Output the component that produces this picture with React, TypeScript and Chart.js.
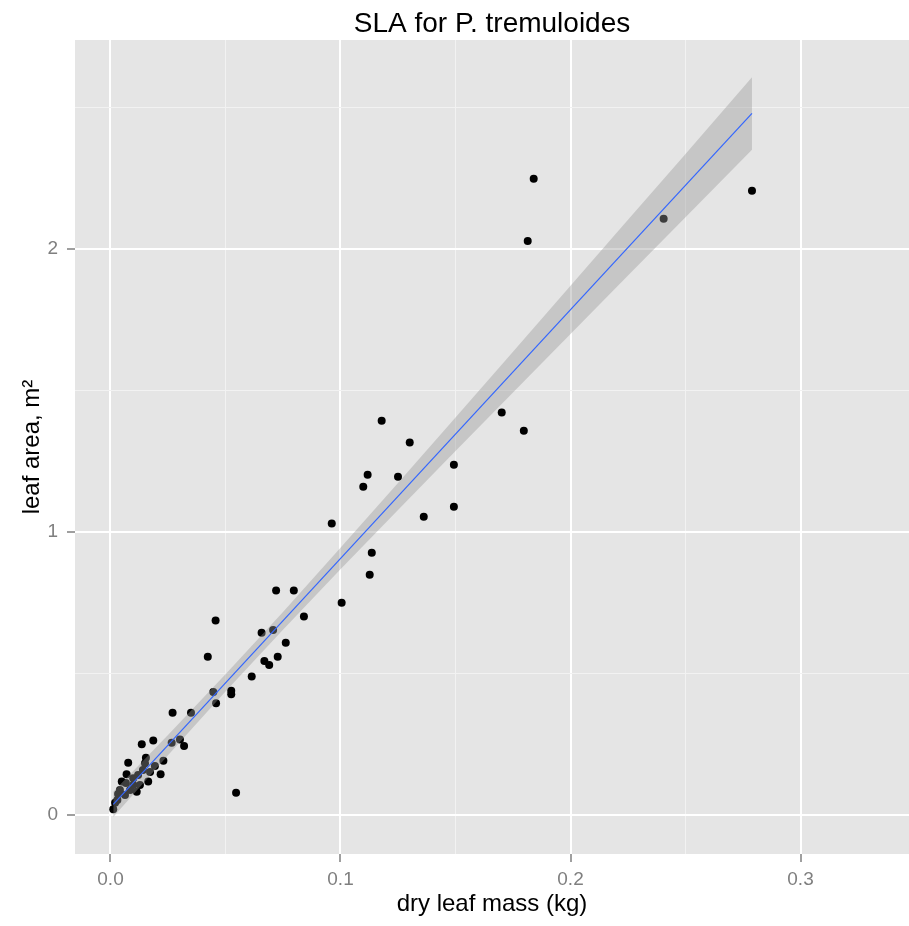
import React, { useEffect, useRef } from "react";
import { Chart, registerables } from "chart.js";

Chart.register(...registerables);

// Observed points: dry leaf mass (kg) and leaf area (m²)
const massKg = [
  0.0012, 0.002, 0.003, 0.0033, 0.0041, 0.0049, 0.0063, 0.0067, 0.007, 0.0077,
  0.0085, 0.0099, 0.0099, 0.0114, 0.012, 0.0128, 0.0136, 0.0141, 0.015, 0.0154,
  0.0164, 0.0172, 0.0186, 0.0193, 0.0218, 0.023, 0.0266, 0.0302, 0.032,
  0.027, 0.035, 0.0423, 0.0457, 0.0447, 0.0459, 0.0525, 0.0525, 0.0546, 0.0614,
  0.0657, 0.0669, 0.069, 0.0707, 0.072, 0.0727, 0.0762, 0.0797, 0.0841, 0.0962,
  0.1005, 0.1099, 0.1118, 0.1127, 0.1136, 0.1179, 0.125, 0.1301, 0.1362, 0.1493,
  0.1493, 0.1701, 0.1797, 0.1814, 0.184, 0.2405, 0.2789,
];
const leafArea = [
  0.02, 0.043, 0.053, 0.074, 0.088, 0.118, 0.071, 0.113, 0.144, 0.185,
  0.088, 0.13, 0.106, 0.082, 0.141, 0.106, 0.25, 0.159, 0.183, 0.202,
  0.118, 0.152, 0.263, 0.173, 0.144, 0.192, 0.255, 0.267, 0.244,
  0.361, 0.361, 0.559, 0.687, 0.435, 0.395, 0.439, 0.427, 0.079, 0.489,
  0.644, 0.544, 0.53, 0.654, 0.793, 0.559, 0.609, 0.793, 0.701, 1.03,
  0.75, 1.16, 1.202, 0.849, 0.927, 1.393, 1.195, 1.316, 1.054, 1.238,
  1.089, 1.422, 1.358, 2.028, 2.248, 2.107, 2.206,
];

// Fitted line
const fitX = [0.0012, 0.2789];
const fitY = [0.0375, 2.479];

// Confidence band
const bandX = [0.0012, 0.025, 0.05, 0.075, 0.1, 0.125, 0.15, 0.175, 0.2, 0.225, 0.25, 0.2789];
const bandLow = [-0.007, 0.211, 0.436, 0.655, 0.868, 1.078, 1.286, 1.493, 1.7, 1.906, 2.112, 2.351];
const bandHigh = [0.082, 0.283, 0.497, 0.717, 0.944, 1.173, 1.405, 1.637, 1.87, 2.103, 2.336, 2.607];

const title = "SLA for P. tremuloides";
const xTitle = "dry leaf mass (kg)";
const yTitle = "leaf area, m\u00B2";

const isMajor = (v: number, step: number) => Math.abs(v / step - Math.round(v / step)) < 1e-6;

export default function App() {
  const ref = useRef<HTMLCanvasElement | null>(null);

  useEffect(() => {
    document.body.style.margin = "0";
    Chart.defaults.font.family = "'Liberation Sans', Arial, sans-serif";
    const canvas = ref.current;
    if (!canvas) return;

    const panelBg = {
      id: "panelBg",
      beforeDraw(chart: any) {
        const { ctx, chartArea } = chart;
        ctx.save();
        ctx.fillStyle = "#E5E5E5";
        ctx.fillRect(chartArea.left, chartArea.top, chartArea.right - chartArea.left, chartArea.bottom - chartArea.top);
        ctx.restore();
      },
    };

    const chart = new Chart(canvas, {
      type: "scatter",
      data: {
        datasets: [
          {
            type: "scatter",
            data: massKg.map((x, i) => ({ x, y: leafArea[i] })),
            backgroundColor: "#000000",
            borderWidth: 0,
            pointRadius: 4,
            order: 4,
          } as any,
          {
            type: "line",
            data: bandX.map((x, i) => ({ x, y: bandLow[i] })),
            borderWidth: 0,
            borderColor: "rgba(0,0,0,0)",
            pointRadius: 0,
            fill: false,
            order: 3,
          } as any,
          {
            type: "line",
            data: bandX.map((x, i) => ({ x, y: bandHigh[i] })),
            borderWidth: 0,
            borderColor: "rgba(0,0,0,0)",
            backgroundColor: "rgba(153,153,153,0.4)",
            pointRadius: 0,
            fill: "-1",
            order: 2,
          } as any,
          {
            type: "line",
            data: fitX.map((x, i) => ({ x, y: fitY[i] })),
            borderColor: "#3366FF",
            borderWidth: 1.2,
            pointRadius: 0,
            fill: false,
            order: 1,
          } as any,
        ],
      },
      options: {
        animation: false,
        responsive: false,
        layout: { padding: 0, autoPadding: false },
        plugins: {
          legend: { display: false },
          tooltip: { enabled: false },
          title: {
            display: true,
            text: title,
            color: "#000000",
            fullSize: false,
            font: { size: 28, weight: "normal", lineHeight: 1.0 },
            padding: { top: 10, bottom: 2 },
          },
        },
        scales: {
          x: {
            type: "linear",
            min: -0.01543,
            max: 0.34717,
            afterFit: (s: any) => {
              s.height = 72;
            },
            border: { display: false },
            grid: {
              color: (c: any) => (isMajor(c.tick.value, 0.1) ? "#FFFFFF" : "#F2F2F2"),
              lineWidth: (c: any) => (isMajor(c.tick.value, 0.1) ? 2 : 1),
              tickColor: (c: any) => (isMajor(c.tick.value, 0.1) ? "#7F7F7F" : "rgba(0,0,0,0)"),
              tickLength: 8,
              tickWidth: 1.5,
            },
            ticks: {
              stepSize: 0.05,
              includeBounds: false,
              autoSkip: false,
              maxRotation: 0,
              color: "#7F7F7F",
              font: { size: 19 },
              padding: 6,
              callback: (v: any) => (isMajor(Number(v), 0.1) ? Number(v).toFixed(1) : ""),
            },
            title: {
              display: true,
              text: xTitle,
              color: "#000000",
              font: { size: 24, lineHeight: 1.2 },
              padding: { top: 0, bottom: 7 },
            },
          },
          y: {
            type: "linear",
            min: -0.1378,
            max: 2.7385,
            afterFit: (s: any) => {
              s.width = 75;
            },
            border: { display: false },
            grid: {
              color: (c: any) => (isMajor(c.tick.value, 1) ? "#FFFFFF" : "#F2F2F2"),
              lineWidth: (c: any) => (isMajor(c.tick.value, 1) ? 2 : 1),
              tickColor: (c: any) => (isMajor(c.tick.value, 1) ? "#7F7F7F" : "rgba(0,0,0,0)"),
              tickLength: 8,
              tickWidth: 1.5,
            },
            ticks: {
              stepSize: 0.5,
              includeBounds: false,
              autoSkip: false,
              color: "#7F7F7F",
              font: { size: 19 },
              padding: 9,
              callback: (v: any) => (isMajor(Number(v), 1) ? String(Math.round(Number(v))) : ""),
            },
            title: {
              display: true,
              text: yTitle,
              color: "#000000",
              font: { size: 24, lineHeight: 1.2 },
              padding: { top: 18, bottom: 0 },
            },
          },
        },
      },
      plugins: [panelBg],
    } as any);

    return () => chart.destroy();
  }, []);

  return (
    <div style={{ width: 909, height: 926, background: "#FFFFFF" }}>
      <canvas ref={ref} width={909} height={926} style={{ display: "block" }} />
    </div>
  );
}
